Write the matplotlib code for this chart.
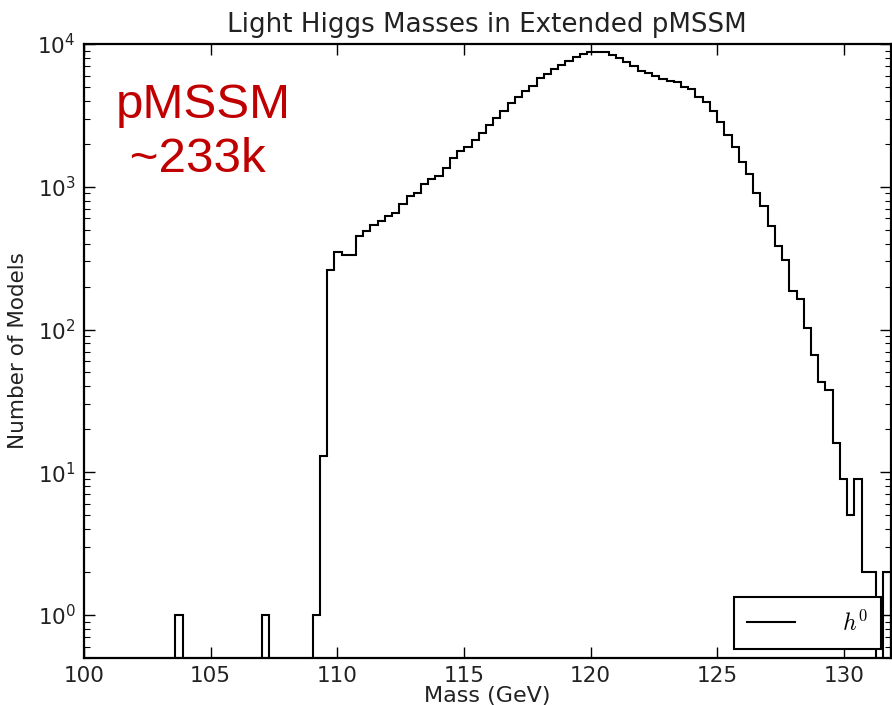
import numpy as np
import matplotlib
matplotlib.use("Agg")
import matplotlib.pyplot as plt

# ---- data ----
bin_start = 103.61      # GeV, lower edge of first bin
bin_width = 0.2851      # GeV
counts = [
    1, 0, 0, 0, 0, 0, 0, 0, 0, 0, 0, 0,
    1, 0, 0, 0, 0, 0, 0,
    1, 13, 263, 350, 335, 335,
    450, 487, 542, 572, 620, 655, 761, 855, 903, 1050,
    1133, 1180, 1352, 1588, 1766, 1914, 2133, 2399, 2715, 3040,
    3380, 3850, 4240, 4680, 5080, 5750, 6200, 6650, 7130, 7640,
    8120, 8510, 8750, 8750, 8750, 8380, 7950, 7520, 7050, 6480,
    6240, 6000, 5660, 5540, 5390, 5030, 4820, 4280, 3910, 3400,
    2820, 2310, 1900, 1490, 1228, 905, 728, 527, 387, 309,
    185, 164, 102, 66, 43, 38, 16, 9, 5, 9,
    2, 2, 0, 2,
]
x_ticks = [100, 105, 110, 115, 120, 125, 130]
title = "Light Higgs Masses in Extended pMSSM"
xlabel = "Mass (GeV)"
ylabel = "Number of Models"
legend_label = r"$h^0$"
note_lines = ["pMSSM", " ~233k"]

counts = np.array(counts, dtype=float)
edges = bin_start + bin_width * np.arange(len(counts) + 1)

plt.rcParams["mathtext.fontset"] = "cm"

fig = plt.figure(figsize=(8.92, 7.05), dpi=100)
ax = fig.add_axes([84 / 892, 47 / 705, (890.5 - 84) / 892, (658 - 44) / 705])

floor = 1e-3
plot_vals = np.where(counts > 0, counts, floor)
ax.stairs(plot_vals, edges, baseline=floor, color="black", linewidth=1.5,
          label=legend_label)

ax.set_yscale("log")
ax.set_ylim(0.5, 1e4)
ax.set_xlim(100, edges[-1])
ax.set_xticks(x_ticks)
ax.set_xticklabels([str(t) for t in x_ticks])

ax.tick_params(which="both", direction="in", top=True, right=True)
ax.tick_params(which="major", length=8, width=1, labelsize=15.5, pad=6,
               labelcolor="#222222")
ax.tick_params(which="minor", length=4, width=0.8)
ax.tick_params(axis="x", which="minor", bottom=False, top=False)
for s in ax.spines.values():
    s.set_linewidth(1.6)

ax.set_title(title, fontsize=18.8, color="#222222", pad=9)
ax.set_xlabel(xlabel, fontsize=16, color="#222222", labelpad=0)
ax.set_ylabel(ylabel, fontsize=15.5, color="#222222", labelpad=7)

leg = ax.legend(loc="lower right", fontsize=17, frameon=True, fancybox=False,
                edgecolor="black", framealpha=1, handlelength=2.0,
                handletextpad=2.0, borderpad=0.55, borderaxespad=0.4)
leg.get_frame().set_linewidth(1.5)

fig.text(116 / 892, 1 - 118 / 705, note_lines[0], fontsize=35.5,
         family="Liberation Sans", color="#c00000", ha="left", va="baseline")
fig.text(116 / 892, 1 - 172 / 705, note_lines[1], fontsize=35.5,
         family="Liberation Sans", color="#c00000", ha="left", va="baseline")

fig.savefig("out.png", dpi=100)
